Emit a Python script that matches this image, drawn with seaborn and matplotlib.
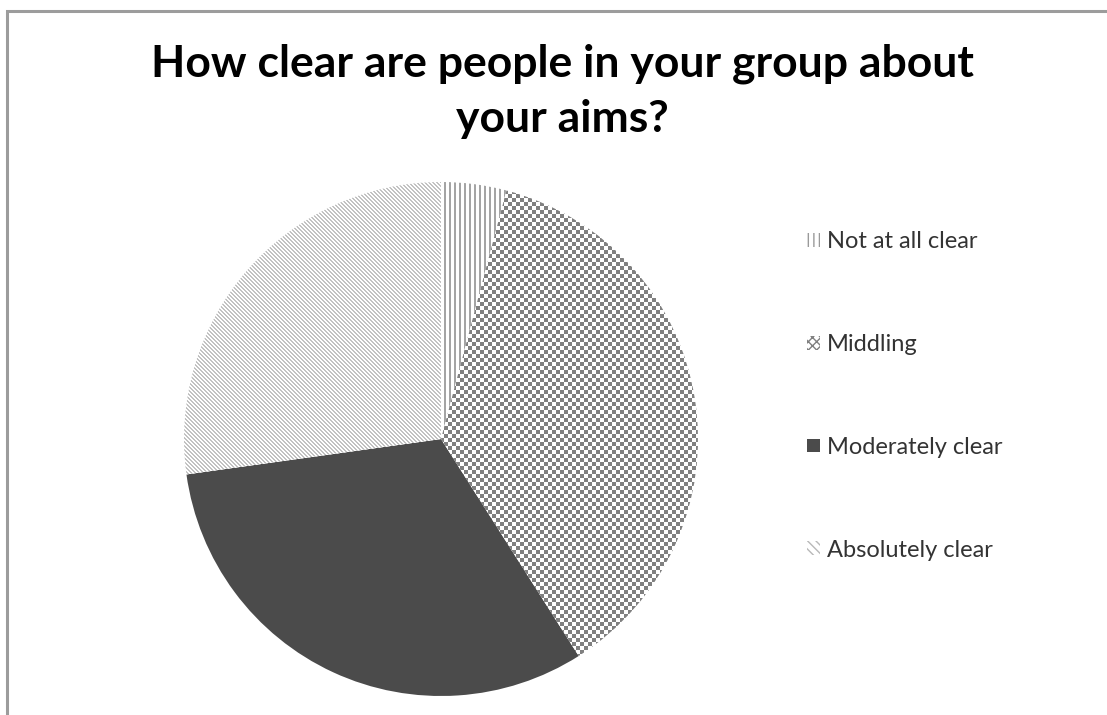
import numpy as np
import matplotlib
matplotlib.use("Agg")
import matplotlib.pyplot as plt
import seaborn as sns
from matplotlib.colors import ListedColormap
from matplotlib.patches import Patch, Rectangle

# Survey answers and their share of responses (%)
categories = ["Not at all clear", "Middling", "Moderately clear", "Absolutely clear"]
shares = [4.1, 36.9, 31.8, 27.2]
title_lines = ["How clear are people in your group about", "your aims?"]

sns.set_theme(style="white")
plt.rcParams["font.family"] = ["Lato", "DejaVu Sans"]

W, H = 1107, 715
fig = plt.figure(figsize=(W / 100, H / 100), dpi=100)
fig.patch.set_facecolor("white")

# chart-area border (runs off the right and bottom edges)
fig.patches.append(Rectangle((7 / W, -0.05), 1.2, 1 - 11 / H + 0.05,
                             transform=fig.transFigure, fill=False,
                             edgecolor="#9c9c9c", lw=2.2))

# pie axes: square, pixel aligned so textures stay crisp
ax = fig.add_axes([184 / W, 19 / H, 514 / W, 514 / H])
wedges, _ = ax.pie(shares, startangle=90, counterclock=False,
                   colors=["white", "white", "#4b4b4b", "white"],
                   wedgeprops=dict(linewidth=0))

n = 514
rows, cols = np.mgrid[0:n, 0:n]
textures = {
    0: (cols % 5 < 2, "#a4a4a4"),                              # vertical stripes
    1: (((rows // 4) + (cols // 4)) % 2 == 0, "#808080"),      # checkerboard
    3: ((cols - rows) % 4 < 2, "#c2c2c2"),                     # diagonal stripes
}
for idx, (mask, color) in textures.items():
    im = ax.imshow(mask.astype(float), cmap=ListedColormap(["white", color]),
                   vmin=0, vmax=1, extent=(-1, 1, -1, 1),
                   interpolation="nearest", zorder=wedges[idx].get_zorder() + 0.1)
    im.set_clip_path(wedges[idx])
ax.set_xlim(-1, 1)
ax.set_ylim(-1, 1)
ax.set_axis_off()

# title, two centred lines
fig.text(562 / W, 1 - 77 / H, title_lines[0], ha="center", va="baseline",
         fontsize=32, fontweight="bold", color="black")
fig.text(562 / W, 1 - 132 / H, title_lines[1], ha="center", va="baseline",
         fontsize=32, fontweight="bold", color="black")

handles = [
    Patch(facecolor="white", edgecolor="#9a9a9a", hatch="|||", lw=0),
    Patch(facecolor="white", edgecolor="#808080", hatch="xxxx", lw=0),
    Patch(facecolor="#4b4b4b", lw=0),
    Patch(facecolor="white", edgecolor="#b8b8b8", hatch="\\\\\\\\", lw=0),
]
fig.legend(handles, categories, loc="upper left",
           bbox_to_anchor=(807 / W, 1 - 231 / H), frameon=False,
           fontsize=17, labelcolor="#333333",
           handlelength=0.53, handleheight=0.53, handletextpad=0.33,
           labelspacing=3.47, borderpad=0, borderaxespad=0)

fig.savefig("out.png", dpi=100)
